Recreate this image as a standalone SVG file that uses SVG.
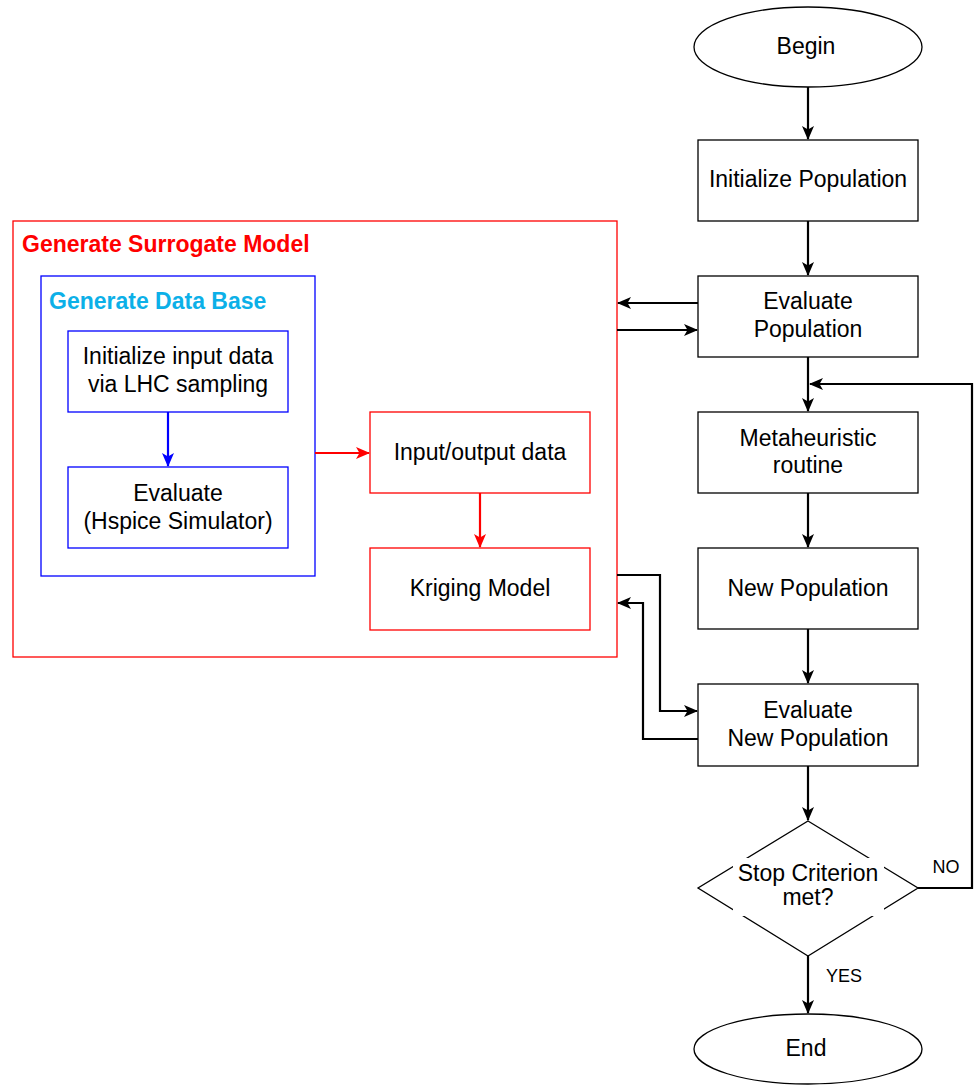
<svg xmlns="http://www.w3.org/2000/svg" width="974" height="1085" viewBox="0 0 974 1085">
<style>
text{font-family:"Liberation Sans",Arial,sans-serif;font-size:23px;fill:#000;text-anchor:middle}
.box{fill:#fff;stroke:#000;stroke-width:1.3}
.rbox{fill:#fff;stroke:#f00;stroke-width:1.3}
.bbox{fill:#fff;stroke:#00f;stroke-width:1.3}
.c{fill:none;stroke:#000;stroke-width:2.2}
.cr{fill:none;stroke:#f00;stroke-width:2.2}
.cb{fill:none;stroke:#00f;stroke-width:2.2}
.lbl{font-size:18px}
.ttl{font-weight:bold;text-anchor:start;font-size:23px}
</style>
<defs>
<marker id="ak" markerWidth="14" markerHeight="14" refX="13" refY="7" orient="auto" markerUnits="userSpaceOnUse" viewBox="0 0 14 14"><path d="M0,1 L14,7 L0,13 L3.5,7 Z" fill="#000"/></marker>
<marker id="ar" markerWidth="14" markerHeight="14" refX="13" refY="7" orient="auto" markerUnits="userSpaceOnUse" viewBox="0 0 14 14"><path d="M0,1 L14,7 L0,13 L3.5,7 Z" fill="#f00"/></marker>
<marker id="ab" markerWidth="14" markerHeight="14" refX="13" refY="7" orient="auto" markerUnits="userSpaceOnUse" viewBox="0 0 14 14"><path d="M0,1 L14,7 L0,13 L3.5,7 Z" fill="#00f"/></marker>
</defs>
<rect width="974" height="1085" fill="#fff"/>
<g id="surrogate">
<rect x="13" y="221" width="604" height="436" class="rbox"/>
<text x="22" y="252" class="ttl" style="fill:#f00">Generate Surrogate Model</text>
</g>
<g id="database">
<rect x="41" y="276" width="274" height="300" class="bbox"/>
<text x="49" y="309" class="ttl" style="fill:#0cb0e8">Generate Data Base</text>
</g>
<g id="initinput">
<rect x="68" y="331" width="220" height="81" class="bbox"/>
<text x="178" y="364">Initialize input data</text>
<text x="178" y="392">via LHC sampling</text>
</g>
<g id="evalhspice">
<rect x="68" y="467" width="220" height="81" class="bbox"/>
<text x="178" y="501">Evaluate</text>
<text x="178" y="529">(Hspice Simulator)</text>
</g>
<g id="iodata">
<rect x="370" y="412" width="220" height="81" class="rbox"/>
<text x="480" y="460">Input/output data</text>
</g>
<g id="kriging">
<rect x="370" y="548" width="220" height="82" class="rbox"/>
<text x="480" y="596">Kriging Model</text>
</g>
<g id="begin">
<ellipse cx="808" cy="47" rx="114" ry="40" class="box"/>
<text x="806" y="54">Begin</text>
</g>
<g id="initpop">
<rect x="698" y="140" width="220" height="81" class="box"/>
<text x="808" y="187">Initialize Population</text>
</g>
<g id="evalpop">
<rect x="698" y="276" width="220" height="81" class="box"/>
<text x="808" y="309">Evaluate</text>
<text x="808" y="337">Population</text>
</g>
<g id="meta">
<rect x="698" y="412" width="220" height="81" class="box"/>
<text x="808" y="446">Metaheuristic</text>
<text x="808" y="473">routine</text>
</g>
<g id="newpop">
<rect x="698" y="548" width="220" height="81" class="box"/>
<text x="808" y="596">New Population</text>
</g>
<g id="evalnew">
<rect x="698" y="684" width="220" height="82" class="box"/>
<text x="808" y="718">Evaluate</text>
<text x="808" y="746">New Population</text>
</g>
<g id="stop">
<polygon points="808,821 918,888 808,956 698,888" class="box"/>
<rect x="733" y="858" width="151" height="58" fill="#fff"/>
<text x="808" y="881">Stop Criterion</text>
<text x="808" y="905">met?</text>
</g>
<g id="end">
<ellipse cx="808" cy="1049" rx="114" ry="35" class="box"/>
<text x="806" y="1056">End</text>
</g>
<g id="connectors">
<path d="M808,87 V139" class="c" marker-end="url(#ak)"/>
<path d="M808,221 V275" class="c" marker-end="url(#ak)"/>
<path d="M808,357 V411" class="c" marker-end="url(#ak)"/>
<path d="M808,493 V547" class="c" marker-end="url(#ak)"/>
<path d="M808,629 V683" class="c" marker-end="url(#ak)"/>
<path d="M808,766 V820" class="c" marker-end="url(#ak)"/>
<path d="M808,956 V1013" class="c" marker-end="url(#ak)"/>
<path d="M918,888 H972 V384 H810" class="c" marker-end="url(#ak)"/>
<path d="M698,303 H618" class="c" marker-end="url(#ak)"/>
<path d="M617,330 H697" class="c" marker-end="url(#ak)"/>
<path d="M617,575 H660 V711 H697" class="c" marker-end="url(#ak)"/>
<path d="M698,739 H643 V603 H618" class="c" marker-end="url(#ak)"/>
<path d="M168,412 V466" class="cb" marker-end="url(#ab)"/>
<path d="M315,453 H369" class="cr" marker-end="url(#ar)"/>
<path d="M480,493 V547" class="cr" marker-end="url(#ar)"/>
<text x="946" y="873" class="lbl">NO</text>
<text x="844" y="982" class="lbl">YES</text>
</g>
</svg>
